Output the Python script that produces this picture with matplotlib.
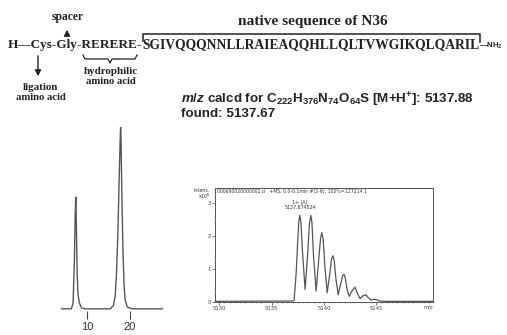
import matplotlib

matplotlib.use("Agg")

import matplotlib.pyplot as plt
from matplotlib.ticker import MultipleLocator

# HPLC trace (retention time in min, relative absorbance)
hplc_time = [4.0, 6.4, 6.8, 7.1, 7.3, 7.44, 7.58, 7.75, 7.95, 8.3, 8.8, 9.5, 15.5, 16.2, 16.6,
             16.9, 17.2, 17.5, 17.75, 17.85, 17.95, 18.15, 18.4, 18.65, 18.9, 19.4, 20.5, 27.7]
hplc_signal = [0.0, 0.0, 0.03, 0.25, 0.52, 0.615, 0.45, 0.20, 0.08, 0.03, 0.005, 0.0, 0.0, 0.02,
               0.07, 0.20, 0.40, 0.70, 0.93, 1.0, 0.93, 0.62, 0.32, 0.13, 0.05, 0.01, 0.0, 0.0]
hplc_ticks = [10, 20]

# ESI-MS isotope envelope (m/z, intensity x10^5)
ms_mz = [5129.6, 5137.0, 5137.15, 5137.35, 5137.5, 5137.6, 5137.7, 5137.8, 5137.95, 5138.2,
         5138.45, 5138.6, 5138.75, 5138.85, 5139.0, 5139.25, 5139.5, 5139.68, 5139.8, 5139.92,
         5140.08, 5140.3, 5140.55, 5140.72, 5140.85, 5140.98, 5141.12, 5141.35, 5141.62, 5141.78,
         5141.9, 5142.02, 5142.18, 5142.4, 5142.68, 5142.95, 5143.2, 5143.45, 5143.72, 5144.0,
         5144.25, 5144.5, 5144.75, 5145.0, 5145.3, 5146.0, 5150.4]
ms_intensity = [0.02, 0.03, 0.05, 0.9, 1.9, 2.45, 2.62, 2.4, 1.5, 0.38,
                1.5, 2.35, 2.62, 2.4, 1.4, 0.33, 1.3, 1.95, 2.1, 1.9,
                1.1, 0.28, 0.85, 1.3, 1.4, 1.25, 0.75, 0.22, 0.58, 0.8,
                0.84, 0.75, 0.42, 0.17, 0.34, 0.45, 0.25, 0.1, 0.19, 0.22,
                0.12, 0.06, 0.08, 0.07, 0.03, 0.02, 0.02]
ms_xticks = [5130, 5135, 5140, 5145]
ms_yticks = [0, 1, 2, 3]

W, H = 507, 335
plt.rcParams["mathtext.fontset"] = "custom"
plt.rcParams["mathtext.rm"] = "Liberation Sans:bold"
plt.rcParams["mathtext.it"] = "Liberation Sans:italic:bold"
plt.rcParams["mathtext.bf"] = "Liberation Sans:bold"

fig = plt.figure(figsize=(W / 100, H / 100), dpi=100)
ink = "#222222"

# overlay in pixel coordinates for the sequence scheme
ann = fig.add_axes([0, 0, 1, 1])
ann.set_xlim(0, W)
ann.set_ylim(H, 0)
ann.axis("off")


def fit_text(x0, x1, y, s, ha="left", **kw):
    # scale the font so the text spans x0..x1 pixels
    xpos = x0 if ha == "left" else (x0 + x1) / 2
    t = ann.text(xpos, y, s, ha=ha, va="center", **kw)
    r = fig.canvas.get_renderer()
    w = t.get_window_extent(r).width
    t.set_fontsize(t.get_fontsize() * (x1 - x0) / w)
    return t


serif = dict(family="Liberation Serif", weight="bold", color=ink)
fit_text(8, 142, 45, "H\u2014Cys-Gly-RERERE-", fontsize=9, **serif)
fit_text(142, 478, 45, "SGIVQQQNNLLRAIEAQQHLLQLTVWGIKQLQARIL", fontsize=9, **serif)
ann.text(479, 46, "\u2014NH$_2$", fontsize=5.5, ha="left", va="center", color=ink,
         family="Liberation Sans", weight="bold")

# bracket over native sequence
ann.plot([143, 143, 480, 480], [41, 34, 34, 42], color=ink, lw=1.1)
fit_text(238, 388, 21, "native sequence of N36", ha="center", fontsize=9, **serif)

# spacer / ligation arrows
ann.annotate("", xy=(67, 27), xytext=(67, 39),
             arrowprops=dict(arrowstyle="-|>,head_width=0.18,head_length=0.35", color=ink, lw=1.0))
fit_text(52, 84, 17, "spacer", ha="center", fontsize=6, **serif)
ann.annotate("", xy=(38, 79), xytext=(38, 53),
             arrowprops=dict(arrowstyle="-|>,head_width=0.18,head_length=0.35", color=ink, lw=1.0))
fit_text(22, 58, 87, "ligation", ha="center", fontsize=6, **serif)
fit_text(15, 66, 98, "amino acid", ha="center", fontsize=6, **serif)

# brace under RERERE
ann.plot([83, 85, 108, 110, 112, 135, 137], [55, 59, 59, 63, 59, 59, 55], color=ink, lw=0.9)
fit_text(83, 138, 71, "hydrophilic", ha="center", fontsize=6, **serif)
fit_text(85, 136, 81, "amino acid", ha="center", fontsize=6, **serif)

# mass data text
sans = dict(family="Liberation Sans", weight="bold", color=ink)
line1 = fit_text(181, 476, 100,
                 r"$\mathit{m/z}$ calcd for C$_{222}$H$_{376}$N$_{74}$O$_{64}$S [M+H$^{+}$]: 5137.88",
                 fontsize=8, **sans)
ann.text(181, 114, "found: 5137.67", fontsize=line1.get_fontsize(), ha="left", va="center", **sans)

# HPLC chromatogram
px_l, px_r, px_b, px_t = 61, 163, 311, 127
ax1 = fig.add_axes([px_l / W, 1 - px_b / H, (px_r - px_l) / W, (px_b - px_t) / H])
ax1.plot(hplc_time, hplc_signal, color="#555555", lw=1.0)
ax1.set_xlim(4.0, 27.7)
ax1.set_ylim(-0.012, 1.0)
for s in ax1.spines.values():
    s.set_visible(False)
ax1.set_yticks([])
ax1.set_xticks(hplc_ticks)
ax1.tick_params(axis="x", length=6, width=0.8, color="#444444", labelsize=8,
                labelcolor="#333333", pad=2)
for lab in ax1.get_xticklabels():
    lab.set_family("Liberation Sans")
ax1.patch.set_alpha(0)

# MS inset
mx_l, mx_r, mx_b, mx_t = 215, 433, 302, 188
ax2 = fig.add_axes([mx_l / W, 1 - mx_b / H, (mx_r - mx_l) / W, (mx_b - mx_t) / H])
ax2.plot(ms_mz, ms_intensity, color="#555555", lw=0.9)
ax2.set_xlim(5129.6, 5150.4)
ax2.set_ylim(0, 3.45)
ax2.set_xticks(ms_xticks)
ax2.set_yticks(ms_yticks)
ax2.xaxis.set_minor_locator(MultipleLocator(0.5))
ax2.yaxis.set_minor_locator(MultipleLocator(0.2))
ax2.tick_params(which="major", length=2, width=0.5, labelsize=3.8, colors="#444444", pad=1)
ax2.tick_params(which="minor", length=1, width=0.4, colors="#666666")
for s in ax2.spines.values():
    s.set_linewidth(0.7)
    s.set_color("#555555")
ax2.text(0.01, 0.995, "000690020000002.d   +MS, 0.0-0.1min #(2-6), 100%=127214.1",
         transform=ax2.transAxes, fontsize=3.3, ha="left", va="top", color="#333333")
ax2.text(5137.7, 2.95, "1+ (A)\n5137.674524", fontsize=3.4, ha="center", va="center",
         color="#333333", linespacing=1.0)
ann.text(202, 190, "Intens.", fontsize=3.4, ha="center", va="center", color="#333333")
ann.text(204, 196, "x10$^5$", fontsize=3.4, ha="center", va="center", color="#333333",
         family="DejaVu Sans")
ann.text(428, 307, "m/z", fontsize=3.8, ha="center", va="center", color="#444444")

fig.savefig("out.png", dpi=100)
